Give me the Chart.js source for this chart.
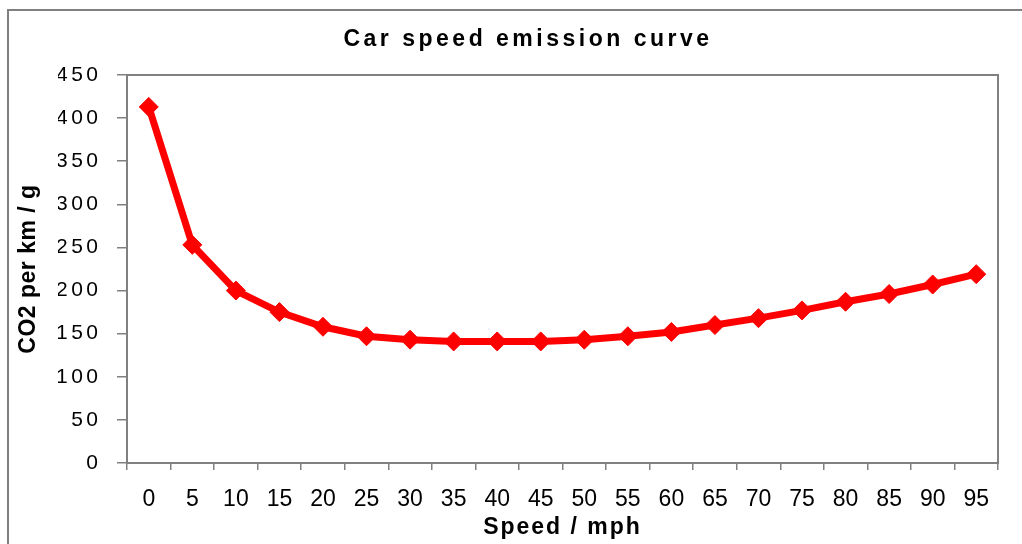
<!DOCTYPE html>
<html>
<head>
<meta charset="utf-8">
<title>Car speed emission curve</title>
<script src="https://cdn.jsdelivr.net/npm/chart.js@4.4.1/dist/chart.umd.min.js"></script>
<style>
  html, body { margin: 0; padding: 0; background: #ffffff; }
  #wrap { width: 1022px; height: 544px; }
</style>
</head>
<body>
<div id="wrap"><canvas id="chart" width="1022" height="544"></canvas></div>
<script>
// Data
const speeds = ['0', '5', '10', '15', '20', '25', '30', '35', '40', '45',
                '50', '55', '60', '65', '70', '75', '80', '85', '90', '95'];
const co2PerKm = [413, 253, 200, 175, 158, 147, 143, 141, 141, 141,
                  143, 147, 152, 160, 168, 177, 187, 196, 207, 219];
const yTicks = { min: 0, max: 450, step: 50 };

const GREY = '#808080';
const FONT = "'Liberation Sans', Arial, sans-serif";

// wrap a draw method so its text gets extra letter spacing (old Excel look)
function withSpacing(obj, method, spacing) {
  if (!obj || obj['_sp_' + method]) return;
  const orig = obj[method];
  obj[method] = function () {
    const ctx = this.ctx;
    const prev = ctx.letterSpacing;
    ctx.letterSpacing = spacing;
    orig.apply(this, arguments);
    ctx.letterSpacing = prev;
  };
  obj['_sp_' + method] = true;
}

const framePlugin = {
  id: 'frame',
  afterLayout(chart) {
    withSpacing(chart.scales.y, 'drawLabels', '3.5px');
    withSpacing(chart.scales.y, 'drawTitle', '0.5px');
    withSpacing(chart.scales.x, 'drawTitle', '2px');
    withSpacing(chart.titleBlock, 'draw', '3.5px');
  },
  beforeDraw(chart) {
    const ctx = chart.ctx;
    ctx.save();
    ctx.fillStyle = '#ffffff';
    ctx.fillRect(0, 0, chart.width, chart.height);
    // outer chart border
    ctx.strokeStyle = GREY;
    ctx.lineWidth = 2;
    ctx.strokeRect(8, 10, chart.width + 40, chart.height + 40);
    ctx.restore();
  },
  beforeDatasetsDraw(chart) {
    const a = chart.chartArea;
    const ctx = chart.ctx;
    ctx.save();
    ctx.strokeStyle = GREY;
    ctx.lineWidth = 2;
    ctx.strokeRect(a.left, a.top, a.right - a.left, a.bottom - a.top);
    ctx.restore();
  }
};

new Chart(document.getElementById('chart').getContext('2d'), {
  type: 'line',
  data: {
    labels: speeds,
    datasets: [{
      label: 'CO2 per km / g',
      data: co2PerKm,
      borderColor: '#ff0000',
      backgroundColor: '#ff0000',
      borderWidth: 7,
      tension: 0,
      pointStyle: 'rectRot',
      pointRadius: 9.5,
      pointBorderWidth: 1,
      pointBackgroundColor: '#ff0000',
      pointBorderColor: '#ff0000',
      clip: false,
    }],
  },
  options: {
    responsive: false,
    animation: false,
    devicePixelRatio: 1,
    // left padding larger than right so the chart title sits a bit right of centre
    layout: { padding: { left: 58, right: 24, top: 0, bottom: 0 } },
    plugins: {
      legend: { display: false },
      tooltip: { enabled: false },
      title: {
        display: true,
        text: 'Car speed emission curve',
        color: '#000000',
        font: { family: FONT, size: 23, weight: 'bold' },
        padding: { top: 25.5, bottom: 21.9 },
      },
    },
    scales: {
      x: {
        offset: true,
        grid: { offset: true, drawOnChartArea: false, tickLength: 7, color: GREY, lineWidth: 1.5 },
        border: { color: GREY, width: 2 },
        ticks: {
          color: '#000000',
          font: { family: FONT, size: 23 },
          padding: 16,
          maxRotation: 0,
          autoSkip: false,
        },
        title: {
          display: true,
          text: 'Speed / mph',
          color: '#000000',
          font: { family: FONT, size: 23, weight: 'bold' },
          padding: { top: 0, bottom: 3 },
        },
        afterFit(scale) { scale.height = 81; },
      },
      y: {
        min: yTicks.min,
        max: yTicks.max,
        grid: { drawOnChartArea: false, tickLength: 10, color: GREY, lineWidth: 1.5 },
        border: { color: GREY, width: 2 },
        ticks: {
          stepSize: yTicks.step,
          color: '#000000',
          font: { family: FONT, size: 21 },
          padding: 15.5,
        },
        title: {
          display: true,
          text: 'CO2 per km / g',
          color: '#000000',
          font: { family: FONT, size: 23, weight: 'bold' },
          padding: { top: -43.3, bottom: 0 },
        },
        afterFit(scale) { scale.width = 69; },
      },
    },
  },
  plugins: [framePlugin],
});
</script>
</body>
</html>
